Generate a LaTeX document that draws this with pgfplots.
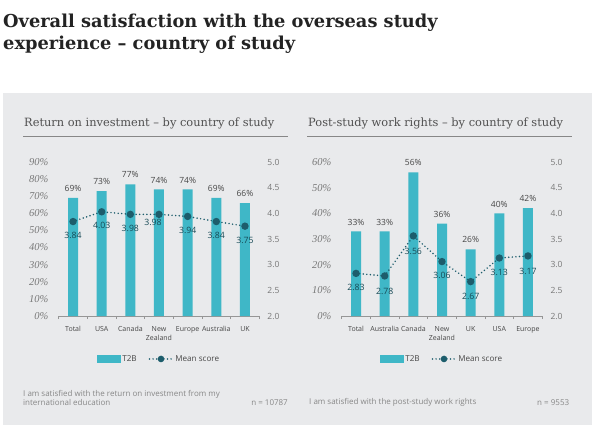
\documentclass[border=0pt]{standalone}
\usepackage{fontspec}
\setmainfont{Open Sans}
\newfontfamily\serif{Liberation Serif}
\newfontfamily\headserif{DejaVu Serif}
\usepackage{pgfplots}
\pgfplotsset{compat=1.18}
\usepackage{pgfplotstable}

\definecolor{panel}{RGB}{233,234,236}
\definecolor{barcol}{RGB}{63,183,199}
\definecolor{meancol}{RGB}{29,93,108}
\definecolor{axisgray}{RGB}{150,150,150}
\definecolor{tickgray}{RGB}{120,120,120}
\definecolor{labdark}{RGB}{70,70,70}
\definecolor{subgray}{RGB}{80,80,80}
\definecolor{notegray}{RGB}{135,135,135}
\definecolor{titlecol}{RGB}{35,35,35}

% x  pct  mean  label offsets (dx, dy) for the mean score
\pgfplotstableread{
x pct mean dx dy
0 69 3.84 0 -14
1 73 4.03 0 -14
2 77 3.98 0 -14
3 74 3.98 -6 -8
4 74 3.94 0 -14
5 69 3.84 0 -14
6 66 3.75 0 -14
}\roi

\pgfplotstableread{
x pct mean dx dy
0 33 2.83 0 -14
1 33 2.78 0 -15
2 56 3.56 0 -15
3 36 3.06 0 -14
4 26 2.67 0 -15
5 40 3.13 0 -14
6 42 3.17 0 -15
}\work

\pgfplotsset{
  chartbase/.style={
    scale only axis, width=200.6pt, height=154pt,
    xmin=-0.5, xmax=6.5, clip=false,
    /pgf/number format/assume math mode=true,
  },
  barax/.style={
    chartbase, ybar, bar width=10pt,
    axis x line=bottom, axis y line=left,
    axis line style={-, draw=axisgray, line width=0.8pt},
    y axis line style={draw=none},
    ytick style={draw=none},
    yticklabel={\pgfmathprintnumber{\tick}\%},
    yticklabel style={font=\serif\itshape\fontsize{10.5}{10.5}\selectfont,
      text=tickgray, anchor=east, inner sep=0pt, xshift=-8pt},
    xtick={0,...,6},
    xtick style={draw=none},
    xticklabel style={font=\fontsize{7}{9.5}\selectfont, text=labdark,
      align=center, anchor=north, inner sep=0pt, yshift=-8pt},
    extra x ticks={-0.5,0.5,1.5,2.5,3.5,4.5,5.5,6.5},
    extra x tick labels={},
    extra x tick style={xtick style={draw=axisgray, line width=0.8pt},
      major tick length=3pt, tick align=outside},
    nodes near coords={\pgfmathprintnumber{\pgfplotspointmeta}\%},
    every node near coord/.append style={font=\fontsize{8.5}{9}\selectfont,
      text=labdark, anchor=south, inner sep=0pt, yshift=6pt},
  },
  meanax/.style={
    chartbase, ymin=2, ymax=5,
    axis x line=none, axis y line*=right,
    y axis line style={draw=none},
    ytick style={draw=none},
    ytick={2,2.5,3,3.5,4,4.5,5},
    yticklabel pos=right,
    yticklabel style={font=\fontsize{8.5}{9}\selectfont, text=tickgray,
      anchor=west, inner sep=0pt, xshift=8pt,
      /pgf/number format/.cd, fixed, fixed zerofill, precision=1},
    legend style={draw=none, fill=none, at={(0.5,-0.279)}, anchor=center,
      legend columns=2, font=\fontsize{8.1}{10}\selectfont, text=labdark,
      /tikz/every even column/.append style={column sep=10pt}},
  },
  meanline/.style={
    meancol, line width=1.7pt, line cap=round, dash pattern=on 0pt off 3.6pt,
    mark=*, mark size=2.8pt, mark options={solid, fill=meancol, draw=none},
    point meta=\thisrow{mean},
    visualization depends on={\thisrow{dx} \as \dx},
    visualization depends on={\thisrow{dy} \as \dy},
    nodes near coords={\pgfmathprintnumber[fixed,fixed zerofill,precision=2]{\pgfplotspointmeta}},
    every node near coord/.append style={font=\fontsize{8.7}{9}\selectfont,
      text=meancol!80!black, anchor=center, inner sep=0pt,
      xshift=\dx pt, yshift=\dy pt},
    legend image code/.code={
      \draw[##1, mark size=2.4pt, mark repeat=2, mark phase=2]
        plot coordinates {(0pt,0pt) (11.5pt,0pt) (23pt,0pt)};},
  },
  barlegend/.style={
    legend image code/.code={\fill[barcol] (0pt,-3.5pt) rectangle (23pt,3.5pt);}},
}

\begin{document}
\begin{tikzpicture}[x=1pt,y=1pt]
\path[use as bounding box, fill=white] (0,0) rectangle (596,431);
\fill[panel] (3,6) rectangle (592,338);

% headline
\node[anchor=base west, inner sep=0pt, text=titlecol,
  font=\headserif\bfseries\fontsize{17.8}{21}\selectfont] at (3,403.5)
  {Overall satisfaction with the overseas study};
\node[anchor=base west, inner sep=0pt, text=titlecol,
  font=\headserif\bfseries\fontsize{17.8}{21}\selectfont] at (3,381)
  {experience – country of study};

% panel headings
\node[anchor=base west, inner sep=0pt, text=subgray,
  font=\headserif\fontsize{11.4}{14}\selectfont] at (24,304.5)
  {Return on investment – by country of study};
\draw[axisgray!90!black, line width=1.2pt] (23,294.3) -- (288,294.3);
\node[anchor=base west, inner sep=0pt, text=subgray,
  font=\headserif\fontsize{11.4}{14}\selectfont] at (308,304.5)
  {Post-study work rights – by country of study};
\draw[axisgray!90!black, line width=1.2pt] (307,294.3) -- (572,294.3);

% left chart: return on investment
\begin{axis}[barax, at={(58.7pt,115pt)}, anchor=south west,
  ymin=0, ymax=90, ytick={0,10,...,90},
  xticklabels={Total,USA,Canada,New\\Zealand,Europe,Australia,UK}]
\addplot[fill=barcol, draw=none] table[x=x,y=pct]{\roi};
\end{axis}
\begin{axis}[meanax, at={(58.7pt,115pt)}, anchor=south west]
\addlegendimage{barlegend}
\addlegendentry{T2B}
\addplot[meanline] table[x=x,y=mean]{\roi};
\addlegendentry{Mean score}
\end{axis}

% right chart: post-study work rights
\begin{axis}[barax, at={(341.7pt,115pt)}, anchor=south west,
  ymin=0, ymax=60, ytick={0,10,...,60},
  xticklabels={Total,Australia,Canada,New\\Zealand,UK,USA,Europe}]
\addplot[fill=barcol, draw=none] table[x=x,y=pct]{\work};
\end{axis}
\begin{axis}[meanax, at={(341.7pt,115pt)}, anchor=south west]
\addlegendimage{barlegend}
\addlegendentry{T2B}
\addplot[meanline] table[x=x,y=mean]{\work};
\addlegendentry{Mean score}
\end{axis}

% notes
\node[anchor=west, inner sep=0pt, text=notegray, align=left,
  font=\fontsize{8}{9.4}\selectfont] at (23,33)
  {I am satisfied with the return on investment from my\\international education};
\node[anchor=east, inner sep=0pt, text=notegray,
  font=\fontsize{8}{9.4}\selectfont] at (288,28.3) {n = 10787};
\node[anchor=west, inner sep=0pt, text=notegray,
  font=\fontsize{8}{9.4}\selectfont] at (309,28.3)
  {I am satisfied with the post-study work rights};
\node[anchor=west, inner sep=0pt, text=notegray,
  font=\fontsize{8}{9.4}\selectfont] at (537,28.3) {n = 9553};
\end{tikzpicture}
\end{document}
